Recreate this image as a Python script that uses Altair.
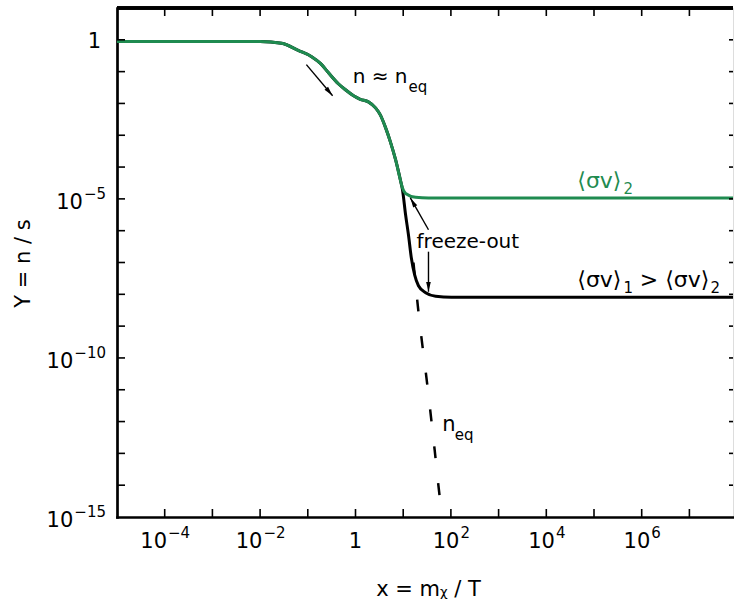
import math

import altair as alt
import pandas as pd

# plot area (pixels) and log10 ranges of both axes
W, H = 616, 509
X_LO, X_HI = -5.0, 7.914
Y_LO, Y_HI = -15.0, 1.0

GREEN = "#1f8b50"
FONT = "DejaVu Sans"
FS = 21      # main text size
FS_EXP = 15  # exponents and subscripts

# log10(x), log10(Y) for the weaker annihilation, <sigma v>_2
green_lx = [-5.0, -2.0, -1.55, -1.19, -0.92, -0.73, -0.57, -0.36, -0.21, -0.04,
            0.10, 0.27, 0.42, 0.52, 0.63, 0.73, 0.84, 0.94, 0.985, 1.05, 1.26,
            1.53, X_HI]
green_ly = [-0.05, -0.05, -0.11, -0.34, -0.53, -0.75, -1.03, -1.38, -1.57, -1.76,
            -1.87, -1.95, -2.14, -2.36, -2.76, -3.20, -3.77, -4.40, -4.66, -4.83,
            -4.95, -4.97, -4.97]

# log10(x), log10(Y) for the stronger annihilation, <sigma v>_1
black_lx = [-5.0, -2.0, -1.55, -1.19, -0.92, -0.73, -0.57, -0.36, -0.21, -0.04,
            0.10, 0.27, 0.42, 0.52, 0.63, 0.73, 0.84, 0.94, 0.985, 1.05, 1.11,
            1.17, 1.24, 1.32, 1.47, 1.68, 2.01, X_HI]
black_ly = [-0.05, -0.05, -0.11, -0.34, -0.53, -0.75, -1.03, -1.38, -1.57, -1.76,
            -1.87, -1.95, -2.14, -2.36, -2.76, -3.20, -3.77, -4.40, -4.71, -5.50,
            -6.13, -6.85, -7.39, -7.73, -7.95, -8.06, -8.09, -8.09]

# equilibrium abundance n_eq after the black curve leaves it
neq_lx = [1.215, 1.32, 1.51, 1.66, 1.76, 1.82]
neq_ly = [-7.0, -8.55, -10.91, -12.9, -14.3, -15.0]

# labelled decades and minor (unlabelled) decades
x_label_exps = [-4, -2, 0, 2, 4, 6]
y_label_exps = [0, -5, -10, -15]
x_minor_exps = list(range(-4, 8))
y_minor_exps = list(range(-14, 1))

# annotation texts: text, log10 x, log10 Y, size, colour
note_text = ["n ≈ n", "eq", "⟨σv⟩", "2", "⟨σv⟩", "1", "> ⟨σv⟩", "2",
             "freeze-out", "n", "eq"]
note_lx = [-0.06, 1.11, 4.65, 5.62, 4.65, 5.62, 5.96, 7.44, 1.28, 1.82, 2.08]
note_ly = [-1.35, -1.63, -4.65, -4.84, -7.76, -7.95, -7.76, -7.95, -6.54,
           -12.29, -12.58]
note_size = [20, FS_EXP, 22, FS_EXP, 22, FS_EXP, 22, FS_EXP, 20, FS, FS_EXP]
note_color = ["black", "black", GREEN, GREEN, "black", "black", "black", "black",
              "black", "black", "black"]

# arrows: tail -> tip, in log10 coordinates
arrow_tail_lx = [-1.03, 1.53, 1.53]
arrow_tail_ly = [-0.78, -5.97, -6.66]
arrow_tip_lx = [-0.48, 1.15, 1.53]
arrow_tip_ly = [-1.76, -4.97, -7.92]

PX_X = W / (X_HI - X_LO)
PX_Y = H / (Y_HI - Y_LO)


def arrow_angle(tlx, tly, hlx, hly):
    dx = (hlx - tlx) * PX_X
    dy = -(hly - tly) * PX_Y
    return math.degrees(math.atan2(dx, -dy)) % 360


arrows = pd.DataFrame({
    "x": [10 ** v for v in arrow_tail_lx],
    "y": [10 ** v for v in arrow_tail_ly],
    "x2": [10 ** v for v in arrow_tip_lx],
    "y2": [10 ** v for v in arrow_tip_ly],
    "angle": [arrow_angle(a, b, c, d) for a, b, c, d in
              zip(arrow_tail_lx, arrow_tail_ly, arrow_tip_lx, arrow_tip_ly)],
})
notes = pd.DataFrame({
    "text": note_text,
    "x": [10 ** v for v in note_lx],
    "y": [10 ** v for v in note_ly],
    "size": note_size,
    "color": note_color,
})


def curve(lx, ly):
    return pd.DataFrame({"x": [10 ** v for v in lx], "y": [10 ** v for v in ly]})


x_scale = alt.Scale(type="log", domain=[10 ** X_LO, 10 ** X_HI], nice=False)
y_scale = alt.Scale(type="log", domain=[10 ** Y_LO, 10 ** Y_HI], nice=False)

x_axis = alt.Axis(
    values=[], labels=False, ticks=False, grid=False,
    domainColor="black", domainWidth=2.7, domainCap="square",
    title="x = mᵪ / T", titleFont=FONT, titleFontSize=FS, titleFontWeight="normal",
    titleColor="black", titleX=311, titleY=78, titleBaseline="alphabetic",
    titleAlign="center",
)
y_axis = alt.Axis(
    values=[], labels=False, ticks=False, grid=False,
    domainColor="black", domainWidth=2.7, domainCap="square",
    title="Y = n / s", titleFont=FONT, titleFontSize=FS, titleFontWeight="normal",
    titleColor="black", titleX=-94, titleY=255, titleBaseline="middle",
    titleAngle=270, titleAlign="center",
)

X = alt.X("x:Q", scale=x_scale, axis=x_axis)
Y = alt.Y("y:Q", scale=y_scale, axis=y_axis)

black_line = alt.Chart(curve(black_lx, black_ly)).mark_line(
    color="black", strokeWidth=3, interpolate="monotone"
).encode(x=X, y=Y)

neq_line = alt.Chart(curve(neq_lx, neq_ly)).mark_line(
    color="black", strokeWidth=2.5, strokeDash=[12, 25], interpolate="monotone"
).encode(x=X, y=Y)

green_line = alt.Chart(curve(green_lx, green_ly)).mark_line(
    color=GREEN, strokeWidth=3, interpolate="monotone"
).encode(x=X, y=Y)

# inward decade ticks on all four sides
xt = pd.DataFrame({"x": [10.0 ** e for e in x_minor_exps]})
yt = pd.DataFrame({"y": [10.0 ** e for e in y_minor_exps]})
tick_style = dict(color="black", strokeWidth=1.6)
ticks_bottom = alt.Chart(xt).mark_rule(**tick_style).encode(
    x=X, y=alt.value(H - 8), y2=alt.value(H))
ticks_top = alt.Chart(xt).mark_rule(**tick_style).encode(
    x=X, y=alt.value(0), y2=alt.value(8))
ticks_left = alt.Chart(yt).mark_rule(**tick_style).encode(
    y=Y, x=alt.value(0), x2=alt.value(8))
ticks_right = alt.Chart(yt).mark_rule(**tick_style).encode(
    y=Y, x=alt.value(W - 4), x2=alt.value(W))

top_border = alt.Chart(xt).mark_rule(color="black", strokeWidth=2.7).encode(
    x=alt.value(0), x2=alt.value(W), y=alt.value(0))

# tick labels of the form 10^e: mantissa plus raised exponent
DIGIT = 0.636   # DejaVu Sans advance widths, in em
MINUS = 0.838


def exp_text(e):
    return str(e).replace("-", "−")


def exp_width(e):
    s = str(abs(e))
    return (MINUS if e < 0 else 0) * FS_EXP + DIGIT * FS_EXP * len(s)


label_layers = []
TEN_W = 2 * DIGIT * FS
for e in x_label_exps:
    d = pd.DataFrame({"x": [10.0 ** e]})
    if e == 0:
        label_layers.append(alt.Chart(d).mark_text(
            text="1", font=FONT, fontSize=FS, align="center", baseline="alphabetic",
            color="black").encode(x=X, y=alt.value(H + 31)))
        continue
    ew = exp_width(e)
    split = (TEN_W - ew) / 2
    label_layers.append(alt.Chart(d).mark_text(
        text="10", font=FONT, fontSize=FS, align="right", baseline="alphabetic",
        color="black", dx=split).encode(x=X, y=alt.value(H + 31)))
    label_layers.append(alt.Chart(d).mark_text(
        text=exp_text(e), font=FONT, fontSize=FS_EXP, align="left",
        baseline="alphabetic", color="black", dx=split + 1).encode(
            x=X, y=alt.value(H + 21)))

for e in y_label_exps:
    d = pd.DataFrame({"y": [10.0 ** e]})
    if e == 0:
        label_layers.append(alt.Chart(d).mark_text(
            text="1", font=FONT, fontSize=FS, align="right", baseline="alphabetic",
            color="black", dy=8).encode(y=Y, x=alt.value(-16)))
        continue
    ew = exp_width(e)
    label_layers.append(alt.Chart(d).mark_text(
        text="10", font=FONT, fontSize=FS, align="right", baseline="alphabetic",
        color="black", dy=10, dx=-ew - 1).encode(y=Y, x=alt.value(-11)))
    label_layers.append(alt.Chart(d).mark_text(
        text=exp_text(e), font=FONT, fontSize=FS_EXP, align="right",
        baseline="alphabetic", color="black", dy=0).encode(y=Y, x=alt.value(-11)))

shafts = alt.Chart(arrows).mark_rule(color="black", strokeWidth=1.4).encode(
    x=X, y=Y, x2="x2:Q", y2="y2:Q")
heads = alt.Chart(arrows).mark_point(
    shape="M0,0L0.38,1.6L-0.38,1.6Z", filled=True, opacity=1, color="black", size=150
).encode(x=alt.X("x2:Q", scale=x_scale, axis=x_axis),
         y=alt.Y("y2:Q", scale=y_scale, axis=y_axis),
         angle=alt.Angle("angle:Q", scale=None))

labels = alt.Chart(notes).mark_text(
    font=FONT, align="left", baseline="alphabetic"
).encode(x=X, y=Y, text="text:N",
         size=alt.Size("size:Q", scale=None),
         color=alt.Color("color:N", scale=None))

chart = alt.layer(
    black_line, neq_line, green_line,
    ticks_bottom, ticks_top, ticks_left, ticks_right, top_border,
    shafts, heads, labels, *label_layers,
).properties(
    width=W, height=H, autosize="none",
    padding={"left": 117, "top": 8, "right": 1, "bottom": 86},
).configure_view(stroke=None).configure(background="white")

chart.save("out.html", embed_options={"renderer": "svg", "actions": False})
